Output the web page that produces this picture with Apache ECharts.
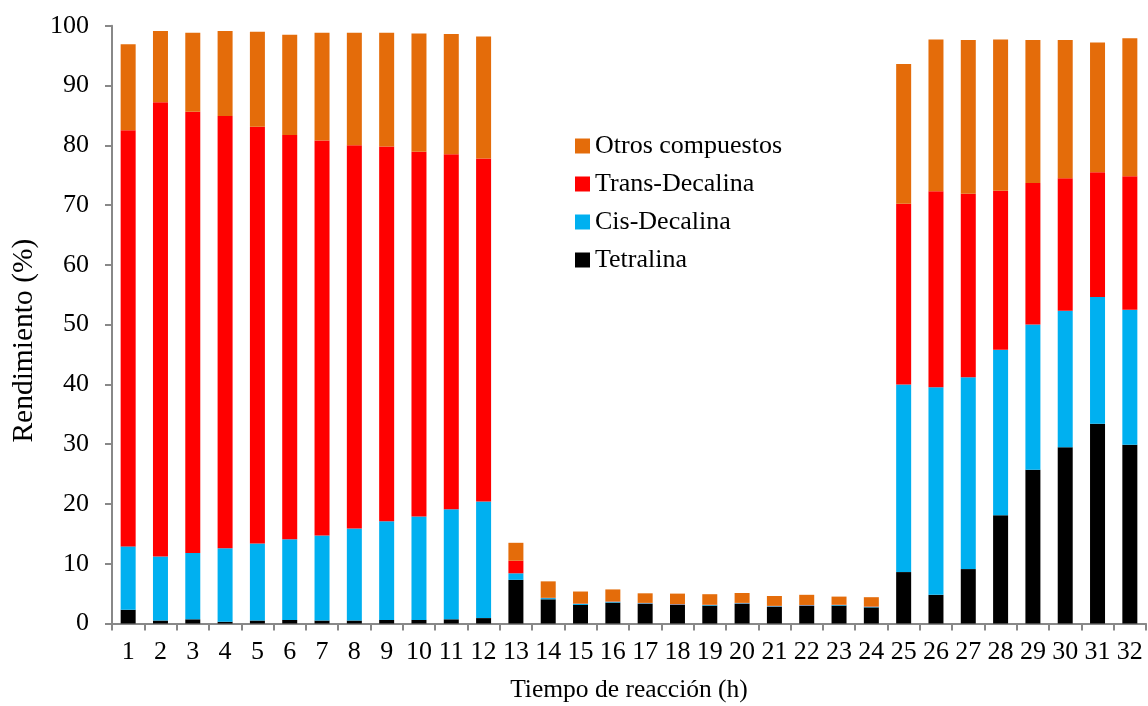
<!DOCTYPE html>
<html>
<head>
<meta charset="utf-8">
<script src="https://cdn.jsdelivr.net/npm/echarts@6/dist/echarts.min.js"></script>
<style>html,body{margin:0;padding:0;background:#fff}#c{width:1148px;height:706px}</style>
</head>
<body>
<div id="c"></div>
<script>
const categories = ['1','2','3','4','5','6','7','8','9','10','11','12','13','14','15','16','17','18','19','20','21','22','23','24','25','26','27','28','29','30','31','32'];
const tetralina = [2.3,0.5,0.7,0.3,0.5,0.6,0.5,0.5,0.6,0.6,0.7,0.9, 7.3,4.05,3.1,3.5,3.3,3.1,3.0,3.3,2.8,2.95,3.0,2.7, 8.6,4.8,9.1,18.1,25.7,29.5,33.4,29.9];
const cisDecalina = [10.6,10.7,11.1,12.3,12.9,13.5,14.2,15.4,16.5,17.3,18.4,19.5, 1.1,0.2,0.2,0.15,0.1,0.1,0.1,0.1,0.1,0.1,0.1,0.1, 31.4,34.7,32.1,27.7,24.3,22.8,21.2,22.6];
const transDecalina = [69.6,76.0,73.8,72.3,69.7,67.6,66.1,64.1,62.7,61.0,59.4,57.4, 2.1,0.05,0.05,0.05,0.05,0.05,0.05,0.05,0.05,0.05,0.05,0.05, 30.2,32.8,30.7,26.6,23.7,22.2,20.9,22.3];
const otros = [14.4,11.9,13.2,14.2,15.9,16.8,18.0,18.8,19.0,19.8,20.1,20.4, 3.0,2.75,2.0,2.0,1.6,1.75,1.75,1.65,1.65,1.7,1.35,1.55, 23.4,25.4,25.7,25.3,23.9,23.1,21.7,23.1];
const yTicks = [0,10,20,30,40,50,60,70,80,90,100];

const font = 'Liberation Serif';
const chart = echarts.init(document.getElementById('c'));
const mk = (name, data, color) => ({
  name, type: 'bar', stack: 'total', data, barWidth: 15,
  itemStyle: { color }, emphasis: { disabled: true }
});
chart.setOption({
  animation: false,
  textStyle: { fontFamily: font, color: '#000' },
  grid: { left: 112, right: 2, top: 25.7, bottom: 82.5, containLabel: false, outerBoundsMode: 'none' },
  legend: {
    orient: 'vertical', left: 570, top: 128,
    itemWidth: 15, itemHeight: 15, itemGap: 12,
    icon: 'rect',
    textStyle: { fontFamily: font, fontSize: 26, color: '#000', lineHeight: 26 },
    data: ['Otros compuestos', 'Trans-Decalina', 'Cis-Decalina', 'Tetralina']
  },
  xAxis: {
    type: 'category', data: categories,
    name: 'Tiempo de reacción (h)', nameLocation: 'middle', nameGap: 54,
    nameTextStyle: { fontFamily: font, fontSize: 25.5, color: '#000' },
    axisLine: { lineStyle: { color: '#888', width: 2 } },
    axisTick: { show: true, length: 7, lineStyle: { color: '#888', width: 2 } },
    axisLabel: { fontFamily: font, fontSize: 26, color: '#000', margin: 16, interval: 0 }
  },
  yAxis: {
    type: 'value', min: 0, max: 100, interval: 10,
    name: 'Rendimiento (%)', nameLocation: 'middle', nameGap: 72,
    nameTextStyle: { fontFamily: font, fontSize: 29.5, color: '#000', padding: [0, 32, 0, 0] },
    axisLine: { show: true, lineStyle: { color: '#888', width: 2 } },
    axisTick: { show: true, length: 7, lineStyle: { color: '#888', width: 2 } },
    splitLine: { show: false },
    axisLabel: { fontFamily: font, fontSize: 26, color: '#000', margin: 23,
      formatter: v => yTicks.includes(v) ? String(v) : '' }
  },
  series: [
    mk('Tetralina', tetralina, '#000000'),
    mk('Cis-Decalina', cisDecalina, '#00B0F0'),
    mk('Trans-Decalina', transDecalina, '#FF0000'),
    mk('Otros compuestos', otros, '#E46C0A')
  ]
});
</script>
</body>
</html>
